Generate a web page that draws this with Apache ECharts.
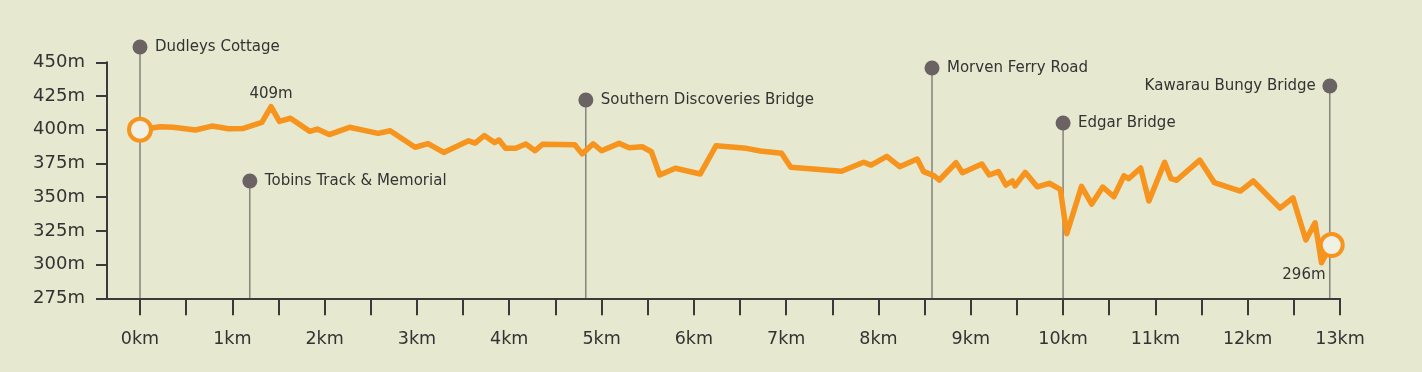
<!DOCTYPE html>
<html>
<head>
<meta charset="utf-8">
<script src="https://cdn.jsdelivr.net/npm/echarts@6/dist/echarts.min.js"></script>
<style>
html,body{margin:0;padding:0;background:#e6e8cf;}
#chart{width:1422px;height:372px;}
</style>
</head>
<body>
<div id="chart"></div>
<script>
// ---- data ----
const distanceKm = [0, 0.22, 0.36, 0.6, 0.78, 0.96, 1.12, 1.32, 1.42, 1.51, 1.63, 1.84, 1.92, 2.05, 2.27, 2.58, 2.71, 2.98, 3.12, 3.29, 3.56, 3.63, 3.73, 3.84, 3.89, 3.96, 4.07, 4.18, 4.28, 4.36, 4.71, 4.79, 4.91, 5.0, 5.19, 5.3, 5.44, 5.54, 5.63, 5.8, 6.07, 6.24, 6.57, 6.72, 6.95, 7.05, 7.6, 7.84, 7.92, 8.09, 8.23, 8.42, 8.49, 8.6, 8.66, 8.84, 8.91, 9.12, 9.2, 9.3, 9.38, 9.45, 9.48, 9.59, 9.72, 9.85, 9.97, 10.04, 10.2, 10.31, 10.43, 10.55, 10.66, 10.71, 10.84, 10.93, 11.1, 11.17, 11.23, 11.48, 11.64, 11.92, 12.06, 12.35, 12.49, 12.63, 12.73, 12.8, 12.86, 12.91];
const elevationM = [400, 402.2, 401.8, 399.8, 402.7, 400.7, 401, 405.5, 417.2, 406.2, 408.5, 398.8, 400.5, 396.4, 401.8, 397.3, 399.2, 387, 389.7, 383.2, 391.8, 390.1, 395.7, 390.5, 392.4, 386.2, 386.2, 389.4, 384.4, 389.2, 388.9, 382.1, 389.6, 384.4, 389.9, 386.7, 387.4, 383.7, 366.4, 371.4, 367.2, 388.1, 386.2, 384.2, 382.5, 372.1, 369.2, 375.9, 373.8, 380.3, 372.6, 378.3, 368.9, 366, 362.7, 375.5, 368.1, 374.6, 366.4, 368.9, 359, 362, 358.3, 368.4, 357.7, 360.3, 355.8, 322.9, 358, 344.9, 357.5, 350.3, 365.9, 363.7, 371.6, 347.1, 375.9, 363.7, 362.5, 377.5, 360.7, 354.5, 362, 341.9, 349.5, 318.2, 331, 301.4, 309.3, 314.5];

const poiNames = ['Dudleys Cottage', 'Tobins Track & Memorial', 'Southern Discoveries Bridge', 'Morven Ferry Road', 'Edgar Bridge', 'Kawarau Bungy Bridge'];
const poiKm = [0, 1.19, 4.83, 8.58, 10.0, 12.89];
const poiLabelLevel = [461.3, 362.0, 422.0, 445.8, 405.0, 432.4];
const poiLabelSide = ['right', 'right', 'right', 'right', 'right', 'left'];

const highLabel = '409m';
const highIndex = 8;
const lowLabel = '296m';
const lowIndex = 87;

const yMin = 275, yMax = 450, yStep = 25;
const xMax = 13, xStep = 0.5;

// ---- styles ----
const ORANGE = '#f7941d';
const AXIS = '#3a3a3a';
const TEXT = '#333333';
const POI = '#6b6264';
const POI_LINE = '#555555';
const FONT = '"DejaVu Sans"';

const lineData = distanceKm.map((d, i) => [d, elevationM[i]]);
const last = lineData.length - 1;

const chart = echarts.init(document.getElementById('chart'), null, {renderer: 'canvas'});

const option = {
  backgroundColor: '#e6e8cf',
  animation: false,
  grid: [
    {left: 107, right: 82, top: 62.3, bottom: 73.7},
    {left: 140, right: 82, top: 62.3, bottom: 73.7}
  ],
  xAxis: [
    {
      gridIndex: 0, type: 'value', min: 0, max: 1,
      axisLine: {show: true, onZero: false, lineStyle: {color: AXIS, width: 2}},
      axisTick: {show: false}, axisLabel: {show: false}, splitLine: {show: false}
    },
    {
      gridIndex: 1, type: 'value', min: 0, max: xMax, interval: xStep,
      axisLine: {show: false, onZero: false},
      axisTick: {show: true, length: 17, lineStyle: {color: AXIS, width: 2}},
      axisLabel: {
        margin: 32, color: TEXT, fontFamily: FONT, fontSize: 17.5,
        formatter: v => (Math.abs(v - Math.round(v)) < 1e-6 ? Math.round(v) + 'km' : '')
      },
      splitLine: {show: false}
    }
  ],
  yAxis: [
    {gridIndex: 0, type: 'value', min: yMin, max: yMax, show: false},
    {
      gridIndex: 1, type: 'value', min: yMin, max: yMax, interval: yStep, offset: 33,
      axisLine: {show: true, onZero: false, lineStyle: {color: AXIS, width: 2}},
      axisTick: {show: true, length: 11, lineStyle: {color: AXIS, width: 2}},
      axisLabel: {margin: 22, color: TEXT, fontFamily: FONT, fontSize: 18, formatter: v => v + 'm'},
      splitLine: {show: false}
    }
  ],
  series: [
    {
      type: 'custom',
      xAxisIndex: 1, yAxisIndex: 1,
      clip: false,
      z: 1,
      data: poiKm.map((k, i) => [k, poiLabelLevel[i], i]),
      renderItem: function (params, api) {
        const i = api.value(2);
        const top = api.coord([api.value(0), api.value(1)]);
        const base = api.coord([api.value(0), yMin]);
        const left = poiLabelSide[i] === 'left';
        return {
          type: 'group',
          children: [
            {type: 'line', shape: {x1: top[0], y1: top[1], x2: base[0], y2: base[1]},
             style: {stroke: POI_LINE, lineWidth: 1}},
            {type: 'circle', shape: {cx: top[0], cy: top[1], r: 7.5}, style: {fill: POI}},
            {type: 'text', x: top[0] + (left ? -14 : 15), y: top[1],
             style: {text: poiNames[i], fill: TEXT, font: '15px ' + FONT,
                     textAlign: left ? 'right' : 'left', textVerticalAlign: 'middle'}}
          ]
        };
      }
    },
    {
      type: 'line',
      xAxisIndex: 1, yAxisIndex: 1,
      data: lineData,
      showSymbol: false,
      symbol: 'none',
      z: 3,
      lineStyle: {color: ORANGE, width: 5.5, join: 'round', cap: 'round'}
    },
    {
      type: 'scatter',
      xAxisIndex: 1, yAxisIndex: 1,
      z: 4,
      symbolSize: 0.1,
      itemStyle: {color: 'rgba(0,0,0,0)', opacity: 1},
      data: [
        {value: lineData[highIndex], label: {show: true, formatter: highLabel, position: 'top', distance: 5,
          color: TEXT, opacity: 1, fontFamily: FONT, fontSize: 15}},
        {value: lineData[lowIndex], label: {show: true, formatter: lowLabel, position: 'bottom', distance: 5,
          align: 'right', offset: [4, 0], color: TEXT, opacity: 1, fontFamily: FONT, fontSize: 15}}
      ]
    },
    {
      type: 'scatter',
      xAxisIndex: 1, yAxisIndex: 1,
      z: 5,
      clip: false,
      symbol: 'circle',
      symbolSize: 22,
      itemStyle: {color: '#f0f1e5', borderColor: ORANGE, borderWidth: 4, opacity: 1},
      data: [lineData[0], lineData[last]]
    }
  ]
};
chart.setOption(option);
</script>
</body>
</html>
